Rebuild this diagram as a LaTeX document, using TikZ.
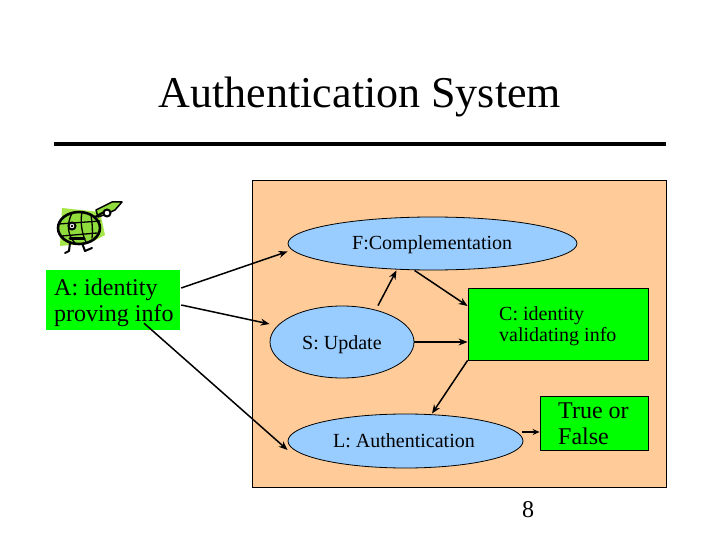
\documentclass[tikz,border=0pt]{standalone}
\usepackage{fontspec}
\setmainfont{Liberation Serif}
\usetikzlibrary{calc,arrows.meta,shapes.geometric}
\definecolor{peach}{HTML}{FFCC99}
\definecolor{sky}{HTML}{99CCFF}
\definecolor{lime}{HTML}{00FF00}
\definecolor{leaf}{HTML}{A6E64A}
\definecolor{shell}{HTML}{8FDC3C}
\tikzset{
  oval/.style={ellipse,draw=black,line width=0.8pt,fill=sky,inner sep=0pt},
  gbox/.style={rectangle,draw=black,line width=0.8pt,fill=lime,inner sep=0pt},
  txt/.style={inner sep=0pt,align=left,font=\fontsize{20}{22}\selectfont,anchor=base west},
  bigtxt/.style={inner sep=0pt,align=left,font=\fontsize{24}{26}\selectfont,anchor=base west},
  conn/.style={line width=1.5pt,-{Stealth[length=9pt,width=7pt]}},
  turt/.style={line width=2pt,draw=black,line cap=round,line join=round}
}
\begin{document}
\begin{tikzpicture}[x=1pt,y=-1pt]
\useasboundingbox (0,0) rectangle (720,540);
\fill[white] (0,0) rectangle (720,540);
\node[inner sep=0pt,anchor=base,font=\fontsize{44}{46}\selectfont] (title) at (360,108) {Authentication System};
\coordinate (ruleL) at (54,144);
\coordinate (ruleR) at (666,144);
\draw[line width=4pt] (ruleL) -- (ruleR);
\node[rectangle,draw=black,line width=0.8pt,fill=peach,minimum width=414pt,minimum height=307pt,inner sep=0pt] (panel) at (459,333.5) {};
\node[oval,minimum width=289pt,minimum height=53pt] (F) at (432.5,243.5) {};
\node[oval,minimum width=144pt,minimum height=72pt] (S) at (342,342) {};
\node[oval,minimum width=235pt,minimum height=54pt] (L) at (405.5,441) {};
\node[gbox,minimum width=180pt,minimum height=72pt] (C) at (558,324) {};
\node[gbox,minimum width=108pt,minimum height=54pt] (T) at (594,423) {};
\node[rectangle,fill=lime,inner sep=0pt,minimum width=134pt,minimum height=60pt] (A) at (113,300) {};
\node[txt] (Ftxt) at (352,249) {F:Complementation};
\node[txt] (Stxt) at (302,349) {S: Update};
\node[txt] (Ltxt) at (333,447) {L: Authentication};
\node[txt] (C1) at (499,320) {C: identity};
\node[txt] (C2) at (499,341) {validating info};
\node[bigtxt] (T1) at (558,418) {True or};
\node[bigtxt] (T2) at (558,444) {False};
\node[bigtxt] (A1) at (54,295) {A: identity};
\node[bigtxt] (A2) at (54,321) {proving info};
\node[inner sep=0pt,anchor=base,font=\fontsize{24}{26}\selectfont] (pg) at (528,517) {8};
\draw[conn] ($(A.east)+(1,-12)$) -- ($(F.west)+(0,8)$);
\draw[conn] ($(A.east)+(1,5)$) -- ($(S.west)+(0,-18)$);
\draw[conn] ($(A.south)+(31,-7)$) -- ($(L.west)+(0,9)$);
\draw[conn] ($(S.north)+(36,0)$) -- ($(F.south)+(-36,0)$);
\draw[conn] ($(F.south)+(-18,0)$) -- ($(C.west)+(0,-18)$);
\draw[conn] (S.east) -- (C.west |- S.east);
\draw[conn] (C.south west) -- ($(L.north)+(26.5,0)$);
\draw[conn,-{Stealth[length=7pt,width=6pt]}] ($(L.east)+(-1,-9)$) -- ($(T.west)+(0,9)$);
% turtle
\fill[leaf] (62,208) -- (100,212) -- (105,235) -- (90,243) -- (60,246) -- cycle;
\draw[line width=1.5pt,draw=black,fill=shell,line join=round] (96,210) -- (112,202) -- (122,202) -- (115,210) -- (104,215) -- (98,217) -- cycle;
\draw[turt] (95,217) -- (104,212);
\draw[turt,fill=white,line width=2pt] (107,213) circle (3.5pt);
\draw[turt] (70,243) -- (69,251) -- (65,253);
\draw[turt] (82,243) -- (85,251) -- (92,248);
\draw[turt,fill=shell,line width=2.6pt] (79,228) ellipse (21pt and 16pt);
\draw[turt,line width=1.3pt] (59,224) -- (100,221);
\draw[turt,line width=1.3pt] (62,236) -- (97,233);
\draw[turt,line width=1.3pt] (72,213) .. controls (66,225) and (68,236) .. (75,243);
\draw[turt,line width=1.3pt] (82,212) .. controls (80,222) and (82,234) .. (86,242);
\draw[turt,line width=1.3pt] (91,215) .. controls (92,222) and (93,230) .. (92,238);
\draw[turt,line width=3pt] (70,238) -- (84,238);
\draw[turt,fill=white,line width=2pt] (72,226) circle (3.5pt);
\fill[black] (72,226) circle (1.3pt);
\end{tikzpicture}
\end{document}
